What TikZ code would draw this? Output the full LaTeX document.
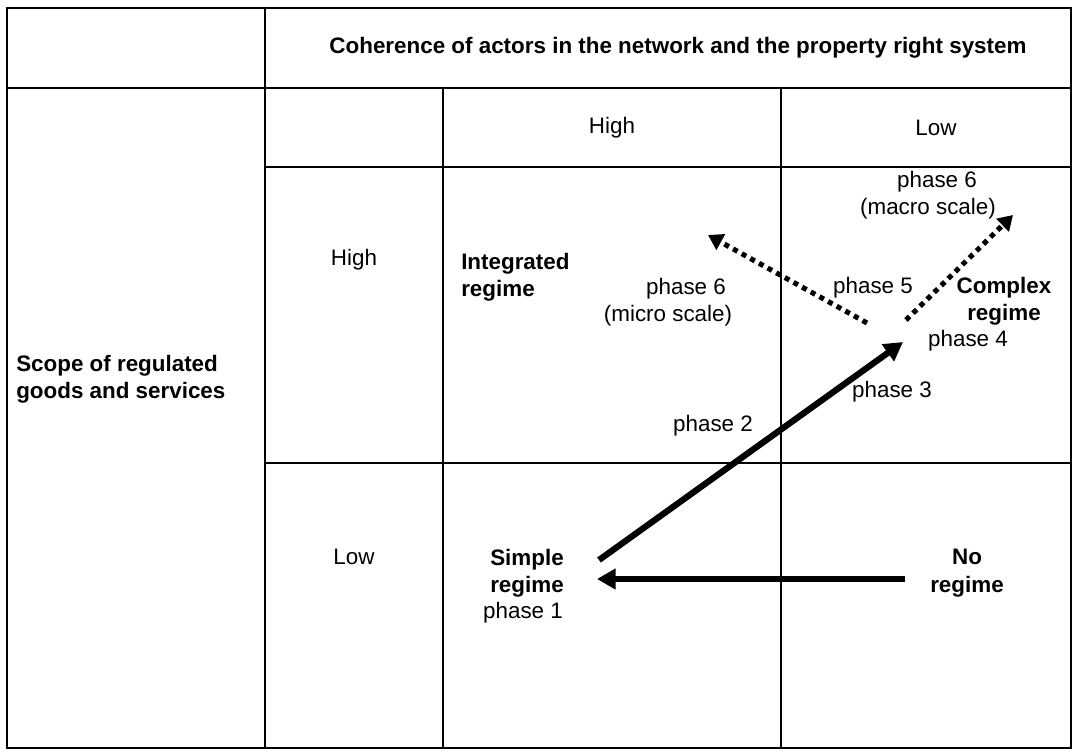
\documentclass[tikz,border=0pt]{standalone}
\usepackage{fontspec}
\setmainfont{Liberation Sans}
\usetikzlibrary{arrows.meta}
\tikzset{
  grid/.style={line width=1.3pt},
  txt/.style={font=\fontsize{16.8}{20.5}\selectfont, align=center, inner sep=0pt},
  btxt/.style={font=\fontsize{16.8}{20.5}\selectfont\bfseries, align=center, inner sep=0pt},
  move/.style={line width=4.7pt, -{Triangle[length=14pt,width=15pt]}},
  later/.style={line width=3.8pt, dash pattern=on 3.8pt off 3.6pt, -{Triangle[length=11pt,width=13pt]}}
}
\begin{document}
\begin{tikzpicture}[x=0.75pt,y=-0.75pt]
\useasboundingbox (0,0) rectangle (1078,751);
% table
\draw[grid,line width=1.6pt] (7,8) rectangle (1071,748);
\draw[grid,line width=1.6pt] (7,88)--(1071,88);
\draw[grid,line width=1.6pt] (265,8)--(265,748);
\draw[grid] (265,167)--(1071,167);
\draw[grid] (443,88)--(443,748);
\draw[grid] (781,88)--(781,748);
\draw[grid] (265,463)--(1071,463);
% headings
\node[btxt] (title) at (678,48) {Coherence of actors in the network and the property right system};
\node[btxt,align=left,anchor=west] (scope) at (16,379) {Scope of regulated\\goods and services};
\node[txt] (colhigh) at (612,128) {High};
\node[txt] (collow) at (936,128) {Low};
\node[txt] (rowhigh) at (354,260) {High};
\node[txt] (rowlow) at (354,557) {Low};
% regimes
\node[btxt,align=left,anchor=west] (integrated) at (461,277) {Integrated\\regime};
\node[btxt] (simple) at (527,573) {Simple\\regime};
\node[txt] (phase1) at (523,613) {phase 1};
\node[btxt] (noreg) at (967,573) {No\\regime};
\node[btxt] (complex) at (1004,301) {Complex\\regime};
\node[txt] (phase4) at (968,341) {phase 4};
% phases
\node[txt] (phase2) at (713,426) {phase 2};
\node[txt] (phase3) at (892,392) {phase 3};
\node[txt] (phase5) at (873,288) {phase 5};
\node[txt] (micro) at (668,302) {\hspace*{27pt}phase 6\\(micro scale)};
\node[txt] (macro) at (928,195) {\hspace*{13.5pt}phase 6\\(macro scale)};
% arrows
\coordinate (s) at (599,560);
\coordinate (c) at (903,342);
\coordinate (n) at (905,579);
\coordinate (h) at (597,579);
\coordinate (ma) at (867,323);
\coordinate (mb) at (708,235);
\coordinate (Ma) at (906,320);
\coordinate (Mb) at (1013,215);
\draw[move] (s)--(c);
\draw[move] (n)--(h);
\draw[later] (ma)--(mb);
\draw[later] (Ma)--(Mb);
\end{tikzpicture}
\end{document}
